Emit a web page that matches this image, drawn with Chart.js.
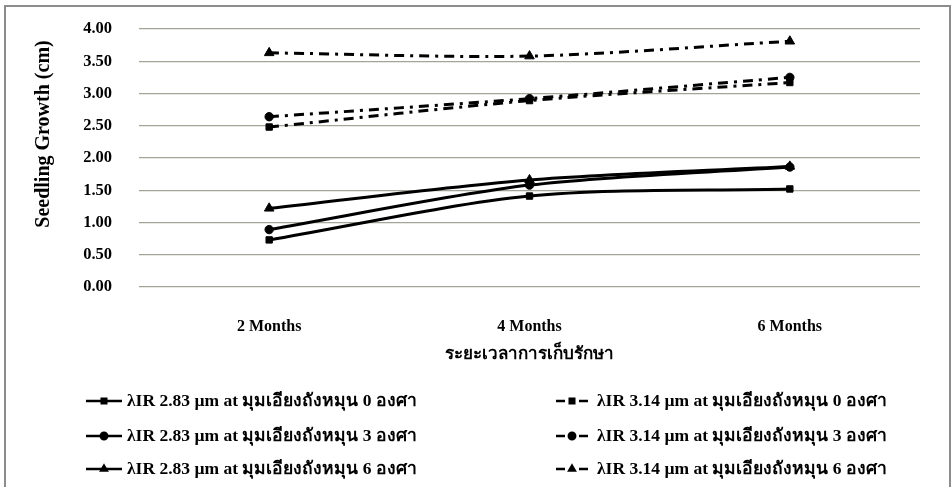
<!DOCTYPE html>
<html>
<head>
<meta charset="utf-8">
<script src="https://cdn.jsdelivr.net/npm/chart.js@4.4.0/dist/chart.umd.min.js"></script>
<style>
  html, body { margin: 0; padding: 0; background: #fff; overflow: hidden; }
  #wrap { position: absolute; left: 0; top: 0; width: 951px; height: 487px; }
  #frame { position: absolute; left: 4px; top: 5px; width: 943px; height: 520px; border: 2px solid #8c8c8c; }
  canvas { position: absolute; left: 0; top: 0; }
</style>
</head>
<body>
<div id="wrap">
  <div id="frame"></div>
  <canvas id="growthChart" width="951" height="487"></canvas>
</div>
<script>
// storage time categories
const months = ['2 Months', '4 Months', '6 Months'];

// seedling growth (cm)
const ir283Tilt0 = [0.73, 1.41, 1.52];
const ir283Tilt3 = [0.89, 1.58, 1.86];
const ir283Tilt6 = [1.22, 1.66, 1.87];
const ir314Tilt0 = [2.48, 2.89, 3.17];
const ir314Tilt3 = [2.64, 2.92, 3.25];
const ir314Tilt6 = [3.63, 3.58, 3.81];

const seriesLabels = [
  'λIR 2.83 µm at มุมเอียงถังหมุน 0 องศา',
  'λIR 2.83 µm at มุมเอียงถังหมุน 3 องศา',
  'λIR 2.83 µm at มุมเอียงถังหมุน 6 องศา',
  'λIR 3.14 µm at มุมเอียงถังหมุน 0 องศา',
  'λIR 3.14 µm at มุมเอียงถังหมุน 3 องศา',
  'λIR 3.14 µm at มุมเอียงถังหมุน 6 องศา'
];

const yTicks = ['0.00', '0.50', '1.00', '1.50', '2.00', '2.50', '3.00', '3.50', '4.00'];
const yTitle = 'Seedling Growth (cm)';
const xTitle = 'ระยะเวลาการเก็บรักษา';

const serif = "'Liberation Serif', 'Times New Roman', serif";
const dashDot = [10, 6, 3, 6];

function makeSeries(label, data, style, dashed) {
  return {
    label: label,
    data: data,
    borderColor: '#000',
    backgroundColor: '#000',
    borderWidth: 3,
    borderDash: dashed ? dashDot : [],
    pointStyle: style,
    pointRadius: style === 'triangle' ? 5.5 : (style === 'rect' ? 4.5 : 4.2),
    pointBorderWidth: 1,
    tension: 0.3,
    fill: false
  };
}

// y title and two-column legend, laid out like the original
const extras = {
  id: 'extras',
  afterDraw(chart) {
    const ctx = chart.ctx;
    ctx.save();
    ctx.fillStyle = '#000';
    ctx.font = 'bold 20px ' + serif;
    ctx.textAlign = 'center';
    ctx.textBaseline = 'middle';
    ctx.translate(44, 134);
    ctx.rotate(-Math.PI / 2);
    ctx.fillText(yTitle, 0, 0);
    ctx.restore();

    const cols = [{ sym: 86, text: 127 }, { sym: 556, text: 597 }];
    const rows = [401, 436, 469];
    chart.data.datasets.forEach(function (ds, i) {
      const col = cols[Math.floor(i / 3)];
      const y = rows[i % 3];
      ctx.save();
      ctx.strokeStyle = '#000';
      ctx.fillStyle = '#000';
      ctx.lineWidth = 2.5;
      ctx.setLineDash([]);
      ctx.beginPath();
      let mx;
      if (ds.borderDash.length) {
        ctx.moveTo(col.sym, y); ctx.lineTo(col.sym + 9, y);
        ctx.moveTo(col.sym + 23, y); ctx.lineTo(col.sym + 32, y);
        mx = col.sym + 16;
      } else {
        ctx.moveTo(col.sym, y); ctx.lineTo(col.sym + 36, y);
        mx = col.sym + 18;
      }
      ctx.stroke();
      Chart.helpers.drawPoint(ctx, { pointStyle: ds.pointStyle, radius: 3.2, borderWidth: 1, rotation: 0 }, mx, y);
      ctx.font = 'bold 17.5px ' + serif;
      ctx.textBaseline = 'middle';
      ctx.textAlign = 'left';
      ctx.fillText(ds.label, col.text, y);
      ctx.restore();
    });
  }
};

const ctx = document.getElementById('growthChart').getContext('2d');
const chart = new Chart(ctx, {
  type: 'line',
  data: {
    labels: months,
    datasets: [
      makeSeries(seriesLabels[0], ir283Tilt0, 'rect', false),
      makeSeries(seriesLabels[1], ir283Tilt3, 'circle', false),
      makeSeries(seriesLabels[2], ir283Tilt6, 'triangle', false),
      makeSeries(seriesLabels[3], ir314Tilt0, 'rect', true),
      makeSeries(seriesLabels[4], ir314Tilt3, 'circle', true),
      makeSeries(seriesLabels[5], ir314Tilt6, 'triangle', true)
    ]
  },
  options: {
    responsive: false,
    devicePixelRatio: 1,
    animation: false,
    layout: { padding: { top: 29, left: 0, right: 31, bottom: 110 } },
    plugins: {
      legend: { display: false },
      tooltip: { enabled: false }
    },
    scales: {
      x: {
        offset: true,
        grid: { display: false },
        border: { display: false },
        ticks: { color: '#000', padding: 22, font: { family: serif, size: 16, weight: 'bold' } },
        title: {
          display: true, text: xTitle, color: '#000',
          padding: { top: 0, bottom: 12 },
          font: { family: serif, size: 17, weight: 'bold' }
        },
        afterFit(scale) { scale.height = 90; }
      },
      y: {
        min: 0, max: 4,
        // tick marks are invisible; their length makes the gap before the labels
        grid: { color: '#a4a498', lineWidth: 1.3, drawTicks: true, tickLength: 27, tickColor: 'rgba(0,0,0,0)' },
        border: { display: false },
        ticks: {
          stepSize: 0.5, color: '#000', padding: 0,
          font: { family: serif, size: 16.5, weight: 'bold' },
          callback: function (v, i) { return yTicks[i]; }
        },
        afterFit(scale) { scale.width = 139; }
      }
    }
  },
  plugins: [extras]
});
</script>
</body>
</html>
